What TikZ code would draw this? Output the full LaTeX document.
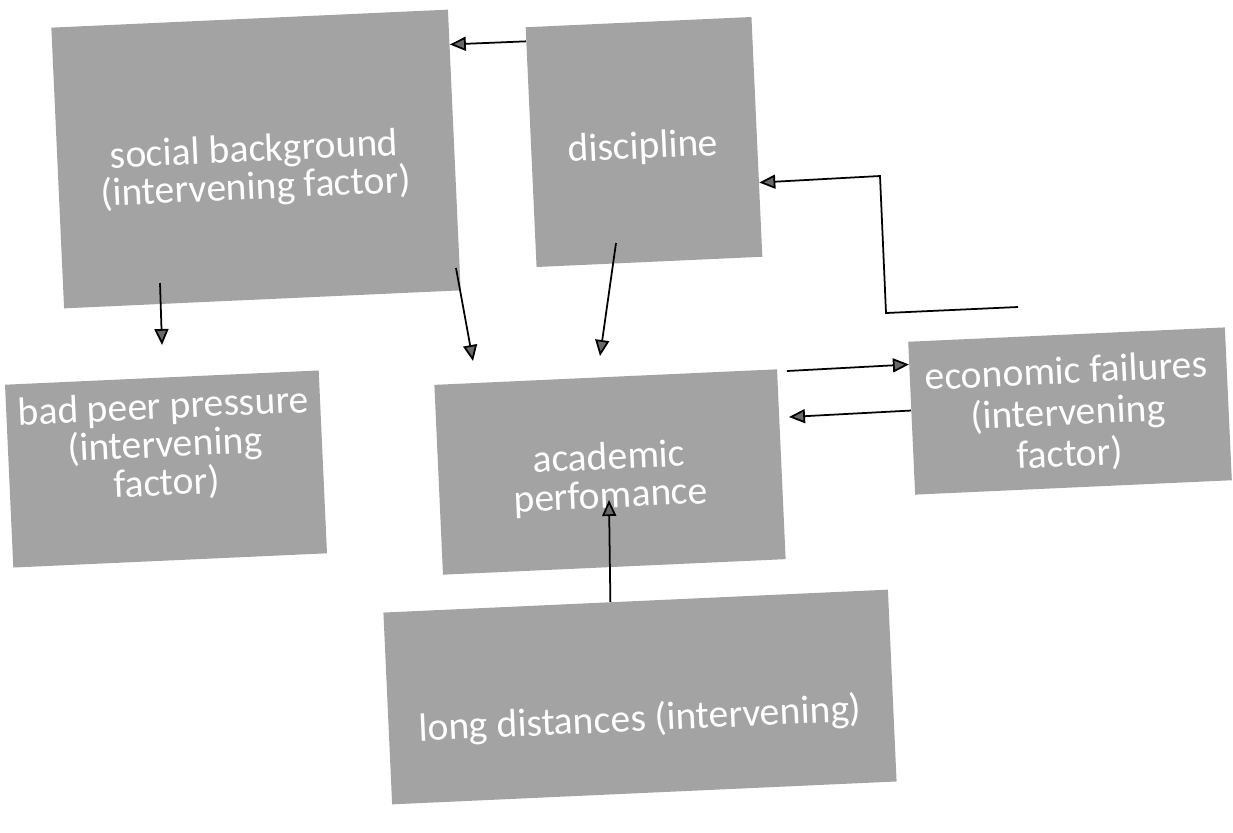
\documentclass[tikz,border=0pt]{standalone}
\usepackage{fontspec}
\setmainfont{Carlito}
\usetikzlibrary{arrows.meta,calc}
\definecolor{boxgray}{RGB}{163,163,163}
\definecolor{tipgray}{RGB}{105,105,105}
\begin{document}
\begin{tikzpicture}[x=0.2mm,y=-0.2mm,
  box/.style={fill=boxgray, draw=none, rotate=2.6, inner sep=0pt},
  txt/.style={text=white, font=\fontsize{22.5}{23.5}\selectfont, align=center, rotate=2.6, inner sep=0pt},
  tight/.style={font=\fontsize{22.5}{19.8}\selectfont},
  mid/.style={font=\fontsize{22.5}{21.8}\selectfont},
  loose/.style={font=\fontsize{22.5}{23.6}\selectfont},
  arr/.style={line width=1pt, -{Triangle[length=3.2mm,width=2.8mm,fill=tipgray]}}]
\useasboundingbox (0,0) rectangle (1233,832);
\fill[white] (0,0) rectangle (1233,832);

% boxes
\node[box, minimum width=79.4mm, minimum height=56.2mm] (soc) at (256,159) {};
\node[txt, tight] (soctxt) at (255,170) {social background\\(intervening factor)};

\node[box, minimum width=45.2mm, minimum height=48mm] (disc) at (644,142) {};
\node[txt] (disctxt) at (643,148) {discipline};

\node[box, minimum width=62.8mm, minimum height=36.6mm] (peer) at (166,469) {};
\node[txt, mid] (peertxt) at (165,446) {bad peer pressure\\(intervening\\factor)};

\node[box, minimum width=68.6mm, minimum height=38mm] (acad) at (610,472) {};
\node[txt, mid] (acadtxt) at (610,478) {academic\\perfomance};

\node[box, minimum width=63.4mm, minimum height=30.6mm] (econ) at (1070,411) {};
\node[txt, loose] (econtxt) at (1068,414) {economic failures\\(intervening\\factor)};

\node[box, minimum width=101mm, minimum height=38.4mm] (long) at (640,697) {};
\node[txt] (longtxt) at (640,720) {long distances (intervening)};

% free ends
\coordinate (e1) at (1018,307);
\coordinate (e2) at (886,313);
\coordinate (e3) at (880,176);
\coordinate (d1) at (616,243);
\coordinate (d2) at (600,356);
\coordinate (s1) at (456,268);
\coordinate (s2) at (473,361);
\coordinate (s3) at (160,283);
\coordinate (s4) at (162,345);
\coordinate (a1) at (787,371);
\coordinate (a2) at (789,417);
\coordinate (l2) at (609,500);

% connectors
\draw[arr] ($(disc.north west)!0.06!(disc.south west)$) -- ($(soc.north east)!0.125!(soc.south east)$);
\draw[arr] (e1) -- (e2) -- (e3) -- ($(disc.north east)!0.69!(disc.south east)$);
\draw[arr] (d1) -- (d2);
\draw[arr] (s1) -- (s2);
\draw[arr] (s3) -- (s4);
\draw[arr] (a1) -- ($(econ.north west)!0.15!(econ.south west)$);
\draw[arr] ($(econ.north west)!0.45!(econ.south west)$) -- (a2);
\draw[arr] ($(long.north west)!0.45!(long.north east)$) -- (l2);
\end{tikzpicture}
\end{document}
